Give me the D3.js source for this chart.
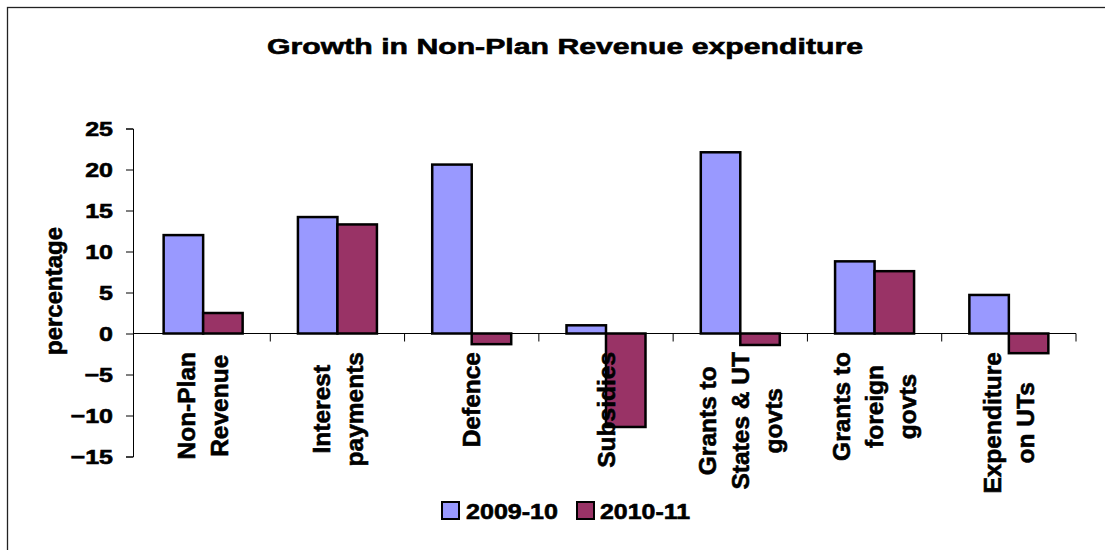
<!DOCTYPE html>
<html>
<head>
<meta charset="utf-8">
<script src="https://cdn.jsdelivr.net/npm/d3@7"></script>
<style>
  html, body { margin: 0; padding: 0; background: #fff; }
  svg { display: block; }
  text { font-family: "Liberation Sans", Arial, sans-serif; font-weight: bold; fill: #000; stroke: #000; stroke-width: 0.6px; }
</style>
</head>
<body>
<svg id="chart" width="1105" height="550"></svg>
<script>
// Growth in Non-Plan Revenue expenditure, percentage change by head
const categories = [
  ["Non-Plan", "Revenue"],
  ["Interest", "payments"],
  ["Defence"],
  ["Subsidies"],
  ["Grants to", "States & UT", "govts"],
  ["Grants to", "foreign", "govts"],
  ["Expenditure", "on UTs"]
];
const seriesNames = ["2009-10", "2010-11"];
const values2009 = [12.0, 14.2, 20.6, 1.0, 22.1, 8.8, 4.7];
const values2010 = [2.5, 13.3, -1.3, -11.4, -1.4, 7.6, -2.4];
const yTicks = [-15, -10, -5, 0, 5, 10, 15, 20, 25];
const colors = ["#9999FF", "#993366"];
const titleText = "Growth in Non-Plan Revenue expenditure";
const yLabel = "percentage";

const svg = d3.select("#chart");

// outer frame
svg.append("rect")
  .attr("x", 7.5).attr("y", 7.5)
  .attr("width", 1300).attr("height", 800)
  .attr("fill", "none").attr("stroke", "#222").attr("stroke-width", 1.3);

const plot = { left: 133, right: 1076, top: 128.5, bottom: 456.5 };

const x0 = d3.scaleBand()
  .domain(d3.range(categories.length))
  .range([136, plot.right])
  .paddingInner(0).paddingOuter(0);

const x1 = d3.scaleBand()
  .domain([0, 1])
  .range([0, x0.bandwidth()])
  .paddingInner(0).paddingOuter(0.7);

const y = d3.scaleLinear().domain([-15, 25]).range([plot.bottom, plot.top]);

// title
svg.append("text")
  .attr("x", 267).attr("y", 53.5)
  .attr("font-size", 22.5)
  .attr("textLength", 596)
  .attr("lengthAdjust", "spacingAndGlyphs")
  .text(titleText);

// y axis
const yAxis = svg.append("g")
  .attr("transform", `translate(${plot.left},0)`)
  .call(d3.axisLeft(y).tickValues(yTicks).tickSize(7).tickFormat(d3.format("d")));
yAxis.select(".domain").attr("stroke", "#000").attr("stroke-width", 1);
yAxis.selectAll(".tick line").attr("stroke", "#000").attr("stroke-width", 1);
yAxis.selectAll(".tick text")
  .attr("x", 0).attr("dy", "0.36em")
  .attr("font-size", 20)
  .attr("font-family", "'Liberation Sans', Arial, sans-serif")
  .attr("font-weight", "bold")
  .attr("transform", "translate(-20,0) scale(1.25,1)")
  .attr("text-anchor", "end");

// y axis title
svg.append("text")
  .attr("transform", `translate(62,291) rotate(-90)`)
  .attr("text-anchor", "middle")
  .attr("font-size", 24)
  .text(yLabel);

// bars
const rows = categories.map((c, i) => [values2009[i], values2010[i]]);
const groups = svg.append("g").selectAll("g")
  .data(rows)
  .join("g")
  .attr("transform", (d, i) => `translate(${x0(i)},0)`);

groups.selectAll("rect")
  .data(d => d.map((v, k) => ({ v, k })))
  .join("rect")
  .attr("x", d => x1(d.k))
  .attr("width", x1.bandwidth())
  .attr("y", d => y(Math.max(0, d.v)))
  .attr("height", d => Math.abs(y(d.v) - y(0)))
  .attr("fill", d => colors[d.k])
  .attr("stroke", "#000")
  .attr("stroke-width", 2.5);

// category axis along zero
const zeroY = y(0);
svg.append("line")
  .attr("x1", plot.left).attr("x2", plot.right)
  .attr("y1", zeroY).attr("y2", zeroY)
  .attr("stroke", "#000").attr("stroke-width", 1);
const bounds = d3.range(1, categories.length + 1).map(i => x0(i - 1) + x0.bandwidth());
svg.append("g").selectAll("line")
  .data(bounds)
  .join("line")
  .attr("x1", d => d).attr("x2", d => d)
  .attr("y1", zeroY).attr("y2", zeroY + 8)
  .attr("stroke", "#000").attr("stroke-width", 1);

// rotated category labels
const lineGap = 33;
const labelTop = 352;
categories.forEach((lines, i) => {
  const cx = x0(i) + x0.bandwidth() / 2;
  const g = svg.append("g").attr("transform", `translate(${cx},${labelTop})`);
  const texts = lines.map(t => g.append("text")
    .attr("font-size", 24.5)
    .attr("text-anchor", "middle")
    .text(t));
  const maxLen = d3.max(texts, t => t.node().getComputedTextLength());
  const n = lines.length;
  texts.forEach((t, k) => {
    const xOff = -(n - 1) / 2 * lineGap + k * lineGap + 8.75;
    t.attr("transform", `translate(${xOff},${maxLen / 2}) rotate(-90)`);
  });
});

// legend
const legendItems = [
  { name: seriesNames[0], color: colors[0], sx: 442, tx: 466, len: 92 },
  { name: seriesNames[1], color: colors[1], sx: 577, tx: 600, len: 90 }
];
const lg = svg.append("g");
legendItems.forEach(it => {
  lg.append("rect")
    .attr("x", it.sx).attr("y", 502)
    .attr("width", 17).attr("height", 17)
    .attr("fill", it.color).attr("stroke", "#000").attr("stroke-width", 2);
  lg.append("text")
    .attr("x", it.tx).attr("y", 519)
    .attr("font-size", 21.5)
    .attr("textLength", it.len)
    .attr("lengthAdjust", "spacingAndGlyphs")
    .text(it.name);
});
</script>
</body>
</html>
